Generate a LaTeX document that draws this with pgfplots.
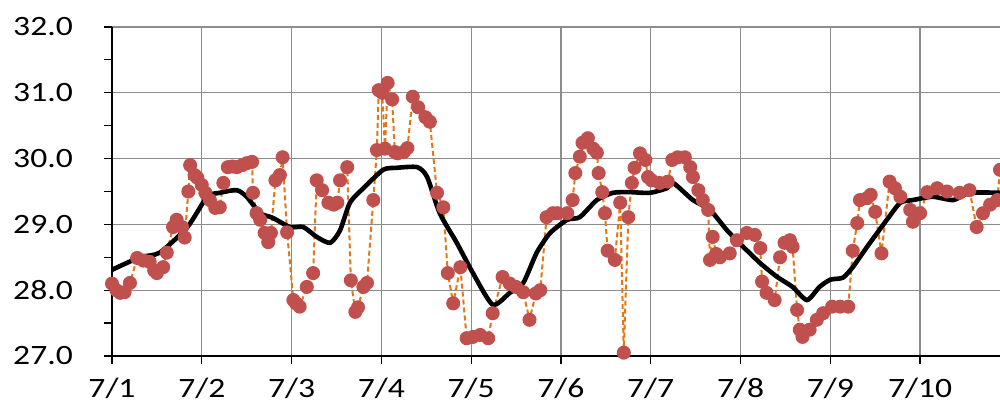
\documentclass[border=0pt]{standalone}
\usepackage{fontspec}
\setmainfont[FakeStretch=1.2]{Carlito}
\usepackage{pgfplots}
\pgfplotsset{compat=1.18}
\usepackage{pgfplotstable}

\definecolor{ptred}{RGB}{192,80,77}
\definecolor{dashorange}{RGB}{228,118,20}
\definecolor{gridgray}{RGB}{140,140,140}

% hourly-ish readings (days after 7/1, value)
\pgfplotstableread{
d v
0.00 28.10
0.05 28.00
0.09 27.96
0.14 27.97
0.20 28.11
0.28 28.49
0.35 28.45
0.42 28.43
0.47 28.30
0.50 28.26
0.57 28.35
0.61 28.57
0.68 28.96
0.72 29.07
0.78 28.96
0.81 28.80
0.85 29.50
0.87 29.90
0.92 29.75
0.95 29.71
1.00 29.60
1.04 29.48
1.09 29.37
1.15 29.25
1.20 29.26
1.24 29.63
1.29 29.87
1.34 29.88
1.39 29.87
1.45 29.90
1.50 29.93
1.56 29.95
1.57 29.48
1.61 29.17
1.65 29.07
1.70 28.87
1.74 28.73
1.77 28.87
1.82 29.67
1.87 29.75
1.90 30.02
1.95 28.88
2.02 27.85
2.05 27.80
2.09 27.75
2.17 28.05
2.24 28.26
2.28 29.67
2.34 29.52
2.41 29.33
2.47 29.30
2.51 29.33
2.54 29.67
2.62 29.87
2.66 28.15
2.71 27.67
2.74 27.74
2.80 28.05
2.84 28.11
2.91 29.37
2.95 30.13
2.97 31.04
3.01 31.00
3.04 30.15
3.07 31.15
3.12 30.90
3.15 30.10
3.18 30.08
3.25 30.10
3.29 30.16
3.35 30.94
3.41 30.78
3.49 30.63
3.54 30.56
3.62 29.48
3.69 29.26
3.74 28.26
3.80 27.80
3.88 28.35
3.95 27.27
4.02 27.29
4.10 27.32
4.19 27.27
4.24 27.65
4.35 28.20
4.43 28.10
4.50 28.05
4.58 27.97
4.65 27.55
4.72 27.95
4.77 28.00
4.84 29.11
4.91 29.17
4.96 29.17
5.07 29.17
5.13 29.37
5.16 29.78
5.21 30.03
5.24 30.24
5.30 30.31
5.36 30.15
5.40 30.09
5.42 29.78
5.46 29.49
5.49 29.17
5.52 28.60
5.60 28.46
5.66 29.33
5.70 27.05
5.75 29.11
5.79 29.63
5.82 29.86
5.88 30.08
5.94 29.98
5.97 29.72
6.01 29.67
6.10 29.63
6.19 29.65
6.24 29.98
6.30 30.02
6.38 30.02
6.44 29.87
6.47 29.72
6.53 29.52
6.58 29.37
6.64 29.22
6.66 28.46
6.69 28.81
6.73 28.55
6.77 28.50
6.88 28.56
6.96 28.76
7.07 28.87
7.16 28.84
7.22 28.64
7.24 28.13
7.29 27.96
7.38 27.85
7.44 28.50
7.49 28.72
7.55 28.76
7.58 28.66
7.63 27.70
7.66 27.40
7.69 27.29
7.77 27.40
7.85 27.55
7.92 27.65
8.02 27.75
8.11 27.75
8.20 27.75
8.25 28.60
8.30 29.02
8.33 29.37
8.41 29.40
8.45 29.45
8.50 29.19
8.57 28.56
8.66 29.65
8.72 29.55
8.78 29.42
8.89 29.22
8.92 29.04
9.00 29.17
9.08 29.49
9.19 29.55
9.30 29.50
9.44 29.48
9.55 29.52
9.63 28.96
9.70 29.17
9.78 29.30
9.86 29.37
9.89 29.83
}\rawdata

% smoothed trend
\pgfplotstableread{
d v
0.00 28.31
0.31 28.50
0.53 28.57
0.84 28.96
1.06 29.42
1.20 29.48
1.39 29.52
1.50 29.42
1.65 29.17
1.79 29.10
1.98 28.96
2.13 28.96
2.28 28.81
2.43 28.72
2.54 28.91
2.65 29.33
2.80 29.55
3.02 29.83
3.17 29.86
3.40 29.87
3.51 29.72
3.65 29.17
3.84 28.72
4.02 28.26
4.24 27.78
4.43 27.96
4.58 28.11
4.73 28.57
4.88 28.87
5.07 29.07
5.21 29.11
5.40 29.37
5.58 29.48
5.77 29.49
5.99 29.48
6.18 29.55
6.25 29.63
6.47 29.37
6.66 29.22
6.85 28.91
7.03 28.66
7.22 28.41
7.41 28.20
7.58 28.05
7.74 27.85
7.88 28.05
8.00 28.16
8.14 28.19
8.25 28.35
8.41 28.66
8.63 29.07
8.78 29.33
8.92 29.37
9.14 29.42
9.37 29.37
9.55 29.48
9.89 29.48
}\trenddata

\begin{document}
\begin{tikzpicture}
\begin{axis}[
    name=ax,
    scale only axis,
    width=888pt, height=329pt,
    xmin=0, xmax=9.89,
    ymin=27, ymax=32,
    axis x line*=bottom,
    axis y line*=left,
    axis line style={black, line width=1.8pt, -},
    xtick={0,1,2,3,4,5,6,7,8,9},
    xticklabels={7/1,7/2,7/3,7/4,7/5,7/6,7/7,7/8,7/9,7/10},
    ytick={27,28,29,30,31,32},
    minor y tick num=1,
    tick align=outside,
    major tick length=8pt,
    minor tick length=8pt,
    tick style={black, line width=1.2pt},
    grid=major,
    major grid style={gridgray, line width=1.3pt},
    yticklabel style={/pgf/number format/fixed, /pgf/number format/fixed zerofill,
        /pgf/number format/precision=1, anchor=east, inner sep=0pt, xshift=-31pt},
    xticklabel style={anchor=north, inner sep=0pt, yshift=-14pt},
    ticklabel style={font=\fontsize{28}{30}\selectfont},
    /pgf/number format/assume math mode=true,
    clip=false,
]
\addplot[dashorange, line width=2pt, dash pattern=on 5pt off 3pt,
    mark=*, mark size=6pt,
    mark options={solid, fill=ptred, draw=ptred}] table[x=d, y=v] {\rawdata};
\addplot[black, line width=4.6pt, smooth, tension=0.4] table[x=d, y=v] {\trenddata};
\end{axis}
\pgfresetboundingbox
\path[use as bounding box] ([xshift=-112pt, yshift=-47pt]ax.south west) rectangle ([yshift=27pt]ax.north east);
\end{tikzpicture}
\end{document}
